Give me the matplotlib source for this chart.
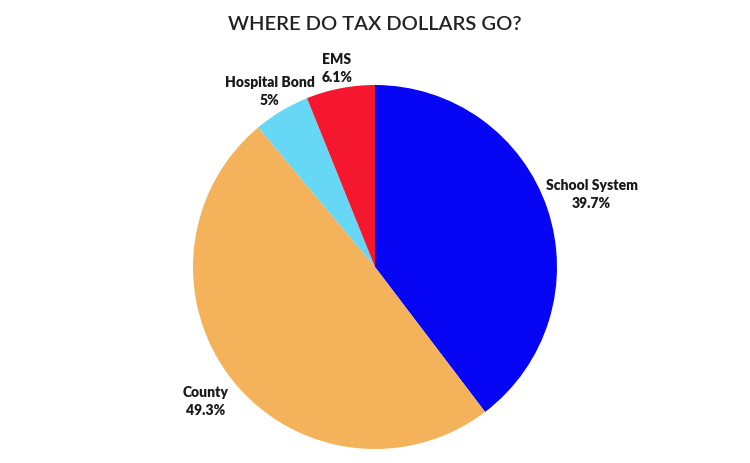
import matplotlib.pyplot as plt

labels = ['School System', 'County', 'Hospital Bond', 'EMS']
values = [39.7, 49.3, 5.0, 6.1]
pct_text = ['39.7%', '49.3%', '5%', '6.1%']
colors = ['#0606F5', '#F4B35B', '#66D8F6', '#F5172E']
# label centres, in pie units (radius = 1)
label_pos = [(1.19, 0.40), (-0.93, -0.74), (-0.58, 0.965), (-0.21, 1.09)]

plt.rcParams['font.family'] = ['Lato', 'DejaVu Sans']

fig = plt.figure(figsize=(7.5, 4.63), dpi=100)
r = 182
ax = fig.add_axes([(375 - r) / 750, (463 - 267 - r) / 463, 2 * r / 750, 2 * r / 463])
ax.pie(values, colors=colors, startangle=90, counterclock=False, radius=1,
       wedgeprops=dict(linewidth=0))
ax.set_xlim(-1, 1)
ax.set_ylim(-1, 1)
ax.set_aspect('equal')
ax.axis('off')

for lab, pct, (x, y) in zip(labels, pct_text, label_pos):
    ax.text(x, y, lab + '\n' + pct, ha='center', va='center', fontsize=10,
            fontweight='heavy', color='#1a1a1a', linespacing=1.45, clip_on=False)

fig.text(0.5, 1 - 24 / 463, 'WHERE DO TAX DOLLARS GO?', ha='center', va='center',
         fontsize=14.5, fontweight='semibold', color='#222222')

fig.savefig('out.png', dpi=100)
